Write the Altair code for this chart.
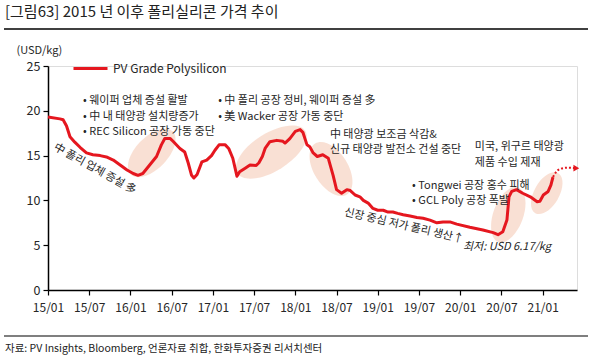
import altair as alt
import pandas as pd

FONT = "Noto Sans CJK KR"
RED = "#e5171f"
TXT = "#262626"

# ---- data ----
dates = [
    "2015-01-01", "2015-02-23", "2015-03-07", "2015-03-22", "2015-04-07", "2015-04-28",
    "2015-05-22", "2015-06-19", "2015-07-17", "2015-08-19", "2015-09-16", "2015-10-16",
    "2015-11-16", "2015-12-16", "2016-01-13", "2016-02-04", "2016-02-25", "2016-03-25",
    "2016-04-25", "2016-05-16", "2016-06-01", "2016-06-25", "2016-07-07", "2016-08-07",
    "2016-08-28", "2016-09-13", "2016-09-28", "2016-10-08", "2016-10-22", "2016-11-13",
    "2016-12-04", "2016-12-25", "2017-01-10", "2017-01-28", "2017-02-25", "2017-03-10",
    "2017-03-28", "2017-04-16", "2017-04-28", "2017-05-22", "2017-06-13", "2017-07-10",
    "2017-07-22", "2017-08-07", "2017-08-19", "2017-09-10", "2017-10-10", "2017-11-07",
    "2017-11-16", "2017-12-07", "2018-01-01", "2018-01-22", "2018-02-04", "2018-02-22",
    "2018-03-04", "2018-03-19", "2018-04-07", "2018-05-01", "2018-05-25", "2018-06-16",
    "2018-07-01", "2018-07-23", "2018-08-16", "2018-09-01", "2018-09-22", "2018-10-13",
    "2018-10-28", "2018-11-19", "2018-12-10", "2019-01-01", "2019-01-25", "2019-02-16",
    "2019-03-07", "2019-03-28", "2019-04-22", "2019-05-22", "2019-06-22", "2019-07-19",
    "2019-08-19", "2019-09-19", "2019-10-16", "2019-11-16", "2019-12-16", "2020-02-13",
    "2020-04-10", "2020-05-25", "2020-06-16", "2020-07-07", "2020-07-25", "2020-08-04",
    "2020-08-16", "2020-09-07", "2020-10-04", "2020-11-07", "2020-12-07", "2020-12-19",
    "2021-01-04", "2021-01-25", "2021-02-07", "2021-02-16",
]
prices = [
    19.3, 19.1, 19.0, 18.3, 17.1, 16.5,
    15.9, 15.3, 15.1, 15.0, 14.85, 14.5,
    13.95, 13.4, 13.0, 12.8, 13.0, 13.95,
    14.9, 16.2, 16.9, 16.9, 16.6, 15.8,
    15.4, 14.2, 12.8, 12.5, 12.9, 14.3,
    14.5, 15.0, 15.6, 16.2, 16.2, 15.8,
    14.7, 12.7, 13.2, 13.6, 13.95, 13.9,
    14.2, 14.9, 15.8, 16.55, 16.7, 16.6,
    16.4, 16.9, 17.7, 17.9, 17.6, 16.2,
    16.0, 15.3, 14.9, 15.1, 14.7, 12.8,
    11.2, 10.8, 11.2, 11.1, 10.6, 10.4,
    10.0, 9.7, 9.1, 8.9, 8.9, 8.7,
    8.7, 8.55, 8.4, 8.25, 8.1, 8.0,
    7.8, 7.5, 7.6, 7.6, 7.35, 7.0,
    6.7, 6.4, 6.17, 6.5, 7.8, 10.4,
    11.0, 11.2, 10.8, 10.4, 9.85, 9.9,
    10.6, 11.0, 11.7, 12.6,
]
series_name = "PV Grade Polysilicon"

ext_dates = ["2021-02-16", "2021-03-01", "2021-03-16", "2021-04-20", "2021-05-28"]
ext_prices = [12.6, 13.2, 13.5, 13.65, 13.6]

tick_months = [0, 6, 12, 18, 24, 30, 36, 42, 48, 54, 60, 66, 72]

# highlight ellipses: center date, center value, rotation (deg), length px, width px
ell_dates = ["2016-04-04", "2017-09-16", "2018-06-07", "2020-08-01", "2021-01-19"]
ell_values = [15.3, 15.4, 13.5, 8.4, 10.8]
ell_angles = [314, 328, 58, 290, 300]
ell_len = [60, 80, 60, 58, 46]
ell_wid = [32, 38, 34, 30, 25]

# text annotations (left-anchored): date, value, text
ann_dates = ["2015-06-04", "2015-06-04", "2015-06-04", "2017-01-24", "2017-01-24",
             "2018-06-02", "2018-06-02", "2020-03-05", "2020-03-05",
             "2019-06-01", "2019-06-01"]
ann_values = [21.1, 19.34, 17.67, 21.1, 19.34, 17.3, 15.63, 15.96, 14.17, 11.64, 9.93]
ann_texts = ["• 웨이퍼 업체 증설 활발", "• 中 내 태양광 설치량증가", "• REC Silicon 공장 가동 중단",
             "• 中 폴리 공장 정비, 웨이퍼 증설 多", "• 美 Wacker 공장 가동 중단",
             "中 태양광 보조금 삭감&", "신규 태양광 발전소 건설 중단",
             "미국, 위구르 태양광", "제품 수입 제재",
             "• Tongwei 공장 홍수 피해", "• GCL Poly 공장 폭발"]

rot_dates = ["2015-07-26", "2019-04-25"]
rot_values = [13.5, 7.14]
rot_texts = ["中 폴리 업체 증설 多", "신장 중심 저가 폴리 생산↑"]
rot_angles = [29, 13]

low_date = "2020-01-13"
low_value = 4.83
low_text = "최저: USD 6.17/kg"


def to_m(s):
    y, mo, d = map(int, s.split("-"))
    return (y - 2015) * 12 + (mo - 1) + (d - 1) / 30.0


df = pd.DataFrame({"m": [to_m(d) for d in dates], "v": prices, "s": series_name})
ext = pd.DataFrame({"m": [to_m(d) for d in ext_dates], "v": ext_prices})
arrow = ext.tail(1)


def ellipse_path(r):
    return f"M -1 0 A 1 {r:.3f} 0 1 1 1 0 A 1 {r:.3f} 0 1 1 -1 0 Z"


ell = pd.DataFrame({
    "m": [to_m(d) for d in ell_dates], "v": ell_values, "ang": ell_angles,
    "size": [l * l for l in ell_len],
    "shape": [ellipse_path(w / l) for w, l in zip(ell_wid, ell_len)],
})
ann = pd.DataFrame({"m": [to_m(d) for d in ann_dates], "v": ann_values, "t": ann_texts})
rot = pd.DataFrame({"m": [to_m(d) for d in rot_dates], "v": rot_values, "t": rot_texts, "a": rot_angles})
low = pd.DataFrame({"m": [to_m(low_date)], "v": [low_value], "t": [low_text]})

xscale = alt.Scale(domain=[0, 77], nice=False, zero=False)
yscale = alt.Scale(domain=[0, 25], nice=False)

X = alt.X("m:Q", scale=xscale, axis=alt.Axis(
    values=tick_months, title=None, grid=False, labelOverlap=False, labelBound=False,
    labelFlush=False,
    labelExpr="format(15 + floor(datum.value / 12), 'd') + '/' + (datum.value % 12 == 0 ? '01' : '07')",
    domainColor="black", domainWidth=1.5, tickColor="black", tickWidth=1.2, tickSize=5,
    labelFontSize=12, labelColor=TXT, labelPadding=7, labelFont=FONT))
Y = alt.Y("v:Q", scale=yscale, axis=alt.Axis(
    values=[0, 5, 10, 15, 20, 25], grid=False, title="(USD/kg)", labelOverlap=False,
    labelFlush=False,
    titleAngle=0, titleX=-32, titleY=-16, titleAlign="left", titleBaseline="middle",
    titleFontSize=11, titleFontWeight="normal", titleColor=TXT, titleFont=FONT,
    domainColor="black", domainWidth=1.5, tickColor="black", tickWidth=1.2, tickSize=5,
    labelFontSize=12.5, labelColor=TXT, labelPadding=3, labelFont=FONT))

ellipses = alt.Chart(ell).mark_point(filled=True, fill="#f8dacd", opacity=0.85, strokeWidth=0).encode(
    x=alt.X("m:Q", scale=xscale), y=alt.Y("v:Q", scale=yscale),
    shape=alt.Shape("shape:N", scale=None), size=alt.Size("size:Q", scale=None),
    angle=alt.Angle("ang:Q", scale=None))

line = alt.Chart(df).mark_line(strokeWidth=3, strokeJoin="round").encode(
    x=X, y=Y,
    color=alt.Color("s:N", scale=alt.Scale(range=[RED]), legend=alt.Legend(
        orient="none", legendX=24, legendY=-16, title=None, symbolType="stroke",
        symbolSize=1156, symbolStrokeWidth=3, labelFontSize=12, labelColor=TXT,
        labelFont=FONT, labelOffset=4)))

extline = alt.Chart(ext).mark_line(color=RED, strokeWidth=2, strokeDash=[2, 2], interpolate="monotone").encode(
    x=alt.X("m:Q", scale=xscale), y=alt.Y("v:Q", scale=yscale))
arrowhead = alt.Chart(arrow).mark_point(shape="triangle-right", filled=True, color=RED, size=45, opacity=1).encode(
    x=alt.X("m:Q", scale=xscale), y=alt.Y("v:Q", scale=yscale))

anns = alt.Chart(ann).mark_text(align="left", baseline="middle", fontSize=11, font=FONT, color=TXT).encode(
    x=alt.X("m:Q", scale=xscale), y=alt.Y("v:Q", scale=yscale), text="t:N")
rots = alt.Chart(rot).mark_text(align="center", baseline="middle", fontSize=11, font=FONT, color=TXT).encode(
    x=alt.X("m:Q", scale=xscale), y=alt.Y("v:Q", scale=yscale), text="t:N",
    angle=alt.Angle("a:Q", scale=None))
lows = alt.Chart(low).mark_text(align="left", baseline="middle", fontSize=11, font=FONT, color=TXT,
                                fontStyle="italic").encode(
    x=alt.X("m:Q", scale=xscale), y=alt.Y("v:Q", scale=yscale), text="t:N")

one = pd.DataFrame({"k": [0]})
title = alt.Chart(one).mark_text(align="left", baseline="middle", fontSize=15, font=FONT, color="#222222",
                                 text="[그림63]  2015 년 이후 폴리실리콘 가격 추이").encode(
    x=alt.value(-43), y=alt.value(-54))
title_rule = alt.Chart(one).mark_rule(color="black", strokeWidth=1.5).encode(
    x=alt.value(-44), x2=alt.value(540), y=alt.value(-37))
src_rule = alt.Chart(one).mark_rule(color="black", strokeWidth=1.2).encode(
    x=alt.value(-44), x2=alt.value(540), y=alt.value(270))
source = alt.Chart(one).mark_text(align="left", baseline="middle", fontSize=10.5, font=FONT, color="#222222",
                                  text="자료: PV Insights, Bloomberg, 언론자료 취합, 한화투자증권 리서치센터").encode(
    x=alt.value(-43), y=alt.value(283))

chart = alt.layer(ellipses, line, extline, arrowhead, anns, rots, lows,
                  title, title_rule, src_rule, source).properties(
    width=529, height=224,
    autosize=alt.AutoSizeParams(type="none"),
    padding={"left": 48, "top": 66, "right": 16, "bottom": 65},
    background="white",
).configure_view(stroke=None).configure(font=FONT)

chart.save("out.html", embed_options={"renderer": "svg", "actions": False})
